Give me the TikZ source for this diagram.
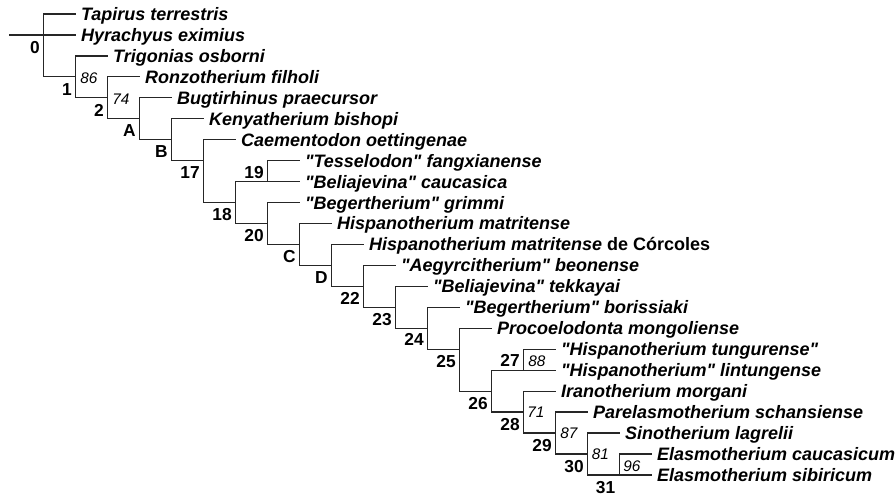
\documentclass[tikz,border=0pt]{standalone}
\usepackage{fontspec}
\setmainfont{Liberation Sans}[Ligatures=TeXOff]
\tikzset{
  br/.style={line width=0.9pt, draw=black!85, line cap=rect},
  leaf/.style={anchor=west, inner xsep=4pt, inner ysep=0pt, text height=9.7pt, text depth=0pt,
    font=\bfseries\itshape\fontsize{13.5}{15}\selectfont},
  nlab/.style={anchor=east, inner sep=0pt, text height=9.3pt, text depth=0pt,
    font=\bfseries\fontsize{13}{15}\selectfont},
  sup/.style={anchor=west, inner sep=0pt, text height=8.2pt, text depth=0pt,
    font=\itshape\fontsize{11.5}{13}\selectfont},
}
\begin{document}
\begin{tikzpicture}[x=0.75pt,y=-0.75pt]
\useasboundingbox (0,0) rectangle (896,497);
% leaves
\node[leaf] (tap)  at (75.5,14.0)   {Tapirus terrestris};
\node[leaf] (hyr)  at (75.5,34.95)  {Hyrachyus eximius};
\node[leaf] (trig) at (107.5,55.9)  {Trigonias osborni};
\node[leaf] (ronz) at (139.5,76.85) {Ronzotherium filholi};
\node[leaf] (bugt) at (171.5,97.8)  {Bugtirhinus praecursor};
\node[leaf] (keny) at (203.5,118.75){Kenyatherium bishopi};
\node[leaf] (caem) at (235.5,139.7) {Caementodon oettingenae};
\node[leaf] (tess) at (299.5,160.65){"Tesselodon" fangxianense};
\node[leaf] (belc) at (299.5,181.6) {"Beliajevina" caucasica};
\node[leaf] (begg) at (299.5,202.55){"Begertherium" grimmi};
\node[leaf] (hism) at (331.5,223.5) {Hispanotherium matritense};
\node[leaf] (hisc) at (363.5,244.45){Hispanotherium matritense\upshape{} de Córcoles};
\node[leaf] (aegy) at (395.5,265.4) {"Aegyrcitherium" beonense};
\node[leaf] (belt) at (427.5,286.35){"Beliajevina" tekkayai};
\node[leaf] (begb) at (459.5,307.3) {"Begertherium" borissiaki};
\node[leaf] (proc) at (491.5,328.25){Procoelodonta mongoliense};
\node[leaf] (tung) at (555.5,349.2) {"Hispanotherium tungurense"};
\node[leaf] (lint) at (555.5,370.15){"Hispanotherium" lintungense};
\node[leaf] (iran) at (555.5,391.1) {Iranotherium morgani};
\node[leaf] (pare) at (587.5,412.05){Parelasmotherium schansiense};
\node[leaf] (sino) at (619.5,433.0) {Sinotherium lagrelii};
\node[leaf] (cauc) at (651.5,453.95){Elasmotherium caucasicum};
\node[leaf] (sibi) at (651.5,474.9) {Elasmotherium sibiricum};
% internal node coordinates
\coordinate (stem) at (10,34.95);
\coordinate (r0t) at (43.5,14.0);   \coordinate (r0b) at (43.5,76.85);
\coordinate (n1t) at (75.5,55.9);   \coordinate (n1b) at (75.5,97.8);   \coordinate (n1j) at (75.5,76.85);
\coordinate (n2t) at (107.5,76.85); \coordinate (n2b) at (107.5,118.75);\coordinate (n2j) at (107.5,97.8);
\coordinate (nAt) at (139.5,97.8);  \coordinate (nAb) at (139.5,139.7); \coordinate (nAj) at (139.5,118.75);
\coordinate (nBt) at (171.5,118.75);\coordinate (nBb) at (171.5,160.65);\coordinate (nBj) at (171.5,139.7);
\coordinate (n17t) at (203.5,139.7);\coordinate (n17b) at (203.5,202.55);\coordinate (n17j) at (203.5,160.65);
\coordinate (n18t) at (235.5,181.6);\coordinate (n18b) at (235.5,223.5);\coordinate (n18j) at (235.5,202.55);
\coordinate (n19t) at (267.5,160.65);\coordinate (n19b) at (267.5,181.6);
\coordinate (n20t) at (267.5,202.55);\coordinate (n20b) at (267.5,244.45);\coordinate (n20j) at (267.5,223.5);
\coordinate (nCt) at (299.5,223.5); \coordinate (nCb) at (299.5,265.4); \coordinate (nCj) at (299.5,244.45);
\coordinate (nDt) at (331.5,244.45);\coordinate (nDb) at (331.5,286.35);\coordinate (nDj) at (331.5,265.4);
\coordinate (n22t) at (363.5,265.4);\coordinate (n22b) at (363.5,307.3);\coordinate (n22j) at (363.5,286.35);
\coordinate (n23t) at (395.5,286.35);\coordinate (n23b) at (395.5,328.25);\coordinate (n23j) at (395.5,307.3);
\coordinate (n24t) at (427.5,307.3);\coordinate (n24b) at (427.5,349.2);\coordinate (n24j) at (427.5,328.25);
\coordinate (n25t) at (459.5,328.25);\coordinate (n25b) at (459.5,391.1);\coordinate (n25j) at (459.5,349.2);
\coordinate (n26t) at (491.5,370.15);\coordinate (n26b) at (491.5,412.05);\coordinate (n26j) at (491.5,391.1);
\coordinate (n27t) at (523.5,349.2);\coordinate (n27b) at (523.5,370.15);
\coordinate (n28t) at (523.5,391.1);\coordinate (n28b) at (523.5,433.0);\coordinate (n28j) at (523.5,412.05);
\coordinate (n29t) at (555.5,412.05);\coordinate (n29b) at (555.5,453.95);\coordinate (n29j) at (555.5,433.0);
\coordinate (n30t) at (587.5,433.0);\coordinate (n30b) at (587.5,474.9);\coordinate (n30j) at (587.5,453.95);
\coordinate (n31t) at (619.5,453.95);\coordinate (n31b) at (619.5,474.9);
% branches
\draw[br] (stem) -- (hyr.west);
\draw[br] (r0t) -- (r0b); \draw[br] (r0t) -- (tap.west); \draw[br] (r0b) -- (n1j);
\draw[br] (n1t) -- (n1b); \draw[br] (n1t) -- (trig.west); \draw[br] (n1b) -- (n2j);
\draw[br] (n2t) -- (n2b); \draw[br] (n2t) -- (ronz.west); \draw[br] (n2b) -- (nAj);
\draw[br] (nAt) -- (nAb); \draw[br] (nAt) -- (bugt.west); \draw[br] (nAb) -- (nBj);
\draw[br] (nBt) -- (nBb); \draw[br] (nBt) -- (keny.west); \draw[br] (nBb) -- (n17j);
\draw[br] (n17t) -- (n17b); \draw[br] (n17t) -- (caem.west); \draw[br] (n17b) -- (n18j);
\draw[br] (n18t) -- (n18b); \draw[br] (n18t) -- (n19b) -- (belc.west); \draw[br] (n18b) -- (n20j);
\draw[br] (n19t) -- (n19b); \draw[br] (n19t) -- (tess.west);
\draw[br] (n20t) -- (n20b); \draw[br] (n20t) -- (begg.west); \draw[br] (n20b) -- (nCj);
\draw[br] (nCt) -- (nCb); \draw[br] (nCt) -- (hism.west); \draw[br] (nCb) -- (nDj);
\draw[br] (nDt) -- (nDb); \draw[br] (nDt) -- (hisc.west); \draw[br] (nDb) -- (n22j);
\draw[br] (n22t) -- (n22b); \draw[br] (n22t) -- (aegy.west); \draw[br] (n22b) -- (n23j);
\draw[br] (n23t) -- (n23b); \draw[br] (n23t) -- (belt.west); \draw[br] (n23b) -- (n24j);
\draw[br] (n24t) -- (n24b); \draw[br] (n24t) -- (begb.west); \draw[br] (n24b) -- (n25j);
\draw[br] (n25t) -- (n25b); \draw[br] (n25t) -- (proc.west); \draw[br] (n25b) -- (n26j);
\draw[br] (n26t) -- (n26b); \draw[br] (n26t) -- (n27b) -- (lint.west); \draw[br] (n26b) -- (n28j);
\draw[br] (n27t) -- (n27b); \draw[br] (n27t) -- (tung.west);
\draw[br] (n28t) -- (n28b); \draw[br] (n28t) -- (iran.west); \draw[br] (n28b) -- (n29j);
\draw[br] (n29t) -- (n29b); \draw[br] (n29t) -- (pare.west); \draw[br] (n29b) -- (n30j);
\draw[br] (n30t) -- (n30b); \draw[br] (n30t) -- (sino.west); \draw[br] (n30b) -- (n31b) -- (sibi.west);
\draw[br] (n31t) -- (n31b); \draw[br] (n31t) -- (cauc.west);
% node labels
\node[nlab] (l0)  at (40,46.95)   {0};
\node[nlab] (l1)  at (72,88.85)   {1};
\node[nlab] (l2)  at (104,109.8)  {2};
\node[nlab] (lA)  at (136,130.75) {A};
\node[nlab] (lB)  at (168,151.7)  {B};
\node[nlab] (l17) at (200,172.65) {17};
\node[nlab] (l19) at (264,172.1)  {19};
\node[nlab] (l18) at (232,214.55) {18};
\node[nlab] (l20) at (264,235.5)  {20};
\node[nlab] (lC)  at (296,256.45) {C};
\node[nlab] (lD)  at (328,277.4)  {D};
\node[nlab] (l22) at (360,298.35) {22};
\node[nlab] (l23) at (392,319.3)  {23};
\node[nlab] (l24) at (424,339.5)  {24};
\node[nlab] (l25) at (456,361.2)  {25};
\node[nlab] (l26) at (488,403.1)  {26};
\node[nlab] (l27) at (520,360.65) {27};
\node[nlab] (l28) at (520,424.05) {28};
\node[nlab] (l29) at (552,445.0)  {29};
\node[nlab] (l30) at (584,465.95) {30};
\node[nlab] (l31) at (615.5,486.9){31};
% support values
\node[sup] (s86) at (80,78.5)    {86};
\node[sup] (s74) at (112,99.5)   {74};
\node[sup] (s88) at (528,361)    {88};
\node[sup] (s71) at (527,412.5)  {71};
\node[sup] (s87) at (560,433.5)  {87};
\node[sup] (s81) at (591.5,454)  {81};
\node[sup] (s96) at (623,466.5)  {96};
\end{tikzpicture}
\end{document}
